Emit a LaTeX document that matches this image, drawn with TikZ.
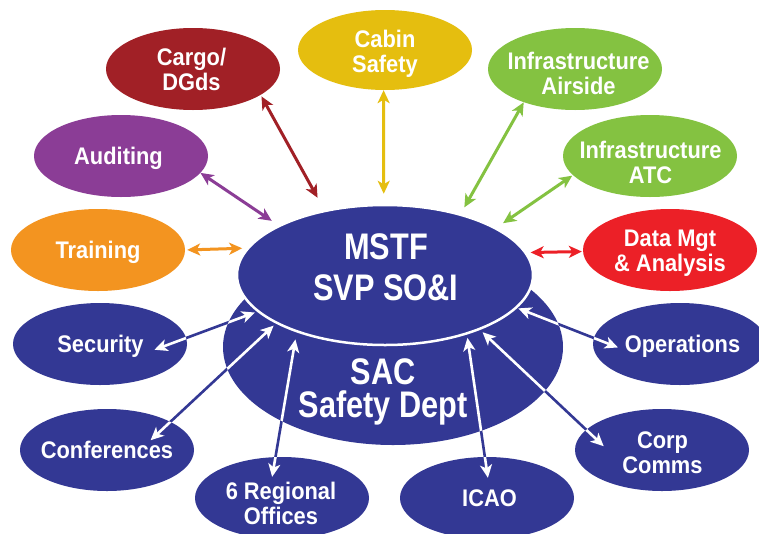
\documentclass[tikz,border=0pt]{standalone}
\usepackage{fontspec}
\setmainfont[FakeStretch=0.91]{Liberation Sans}
\newfontfamily\bigfont[FakeStretch=0.83]{Liberation Sans}
\usetikzlibrary{shapes.geometric,arrows.meta}
\definecolor{navy}{RGB}{51,56,148}
\definecolor{cargoR}{RGB}{161,32,38}
\definecolor{cabinY}{RGB}{229,190,15}
\definecolor{infraG}{RGB}{132,194,65}
\definecolor{auditP}{RGB}{139,61,150}
\definecolor{trainO}{RGB}{243,148,32}
\definecolor{dataR}{RGB}{236,32,39}
\tikzset{
  bub/.style={ellipse, inner sep=0pt, minimum width=174pt, minimum height=82pt, fill=#1},
  lab/.style={text=white, inner sep=0pt, align=center,
    font=\bfseries\fontsize{24}{25}\selectfont, text height=17.3pt, text depth=0pt},
  labtwo/.style={lab, text height=42.3pt},
  biglab/.style={text=white, inner sep=0pt, align=center,
    font=\bigfont\bfseries\fontsize{37}{#1}\selectfont, text height=26.5pt+#1pt, text depth=0pt},
  tip/.tip={Stealth[length=13pt,width=12pt,inset=3.5pt]},
  arr/.style={draw=#1, line width=3pt, tip-tip},
}
\begin{document}
\begin{tikzpicture}[x=1pt,y=-1pt]
\useasboundingbox[fill=white] (0,0) rectangle (759,533);
% central ellipses
\node[ellipse, inner sep=0pt, minimum width=340pt, minimum height=196pt, fill=navy] (sac) at (393,347) {};
\node[ellipse, inner sep=0pt, minimum width=296pt, minimum height=140pt, fill=navy, draw=white, line width=2.5pt] (mstf) at (385,275) {};
% satellites
\node[bub=cargoR] (cargo) at (193,69) {};
\node[bub=cabinY, minimum height=80pt] (cabin) at (385,50) {};
\node[bub=infraG] (airside) at (575,69) {};
\node[bub=infraG] (atc) at (650,156) {};
\node[bub=auditP] (audit) at (121,156) {};
\node[bub=trainO] (train) at (98,250) {};
\node[bub=dataR] (data) at (670,250) {};
\node[bub=navy] (secu) at (100,344) {};
\node[bub=navy] (conf) at (107,450) {};
\node[bub=navy] (reg) at (282,498) {};
\node[bub=navy] (icao) at (487,498) {};
\node[bub=navy] (ops) at (680,344) {};
\node[bub=navy] (corp) at (662,450) {};
% coloured connectors
\draw[arr=cargoR, shorten <=1.6pt, shorten >=13.9pt] (cargo.-21.9) -- (mstf.133.2);
\draw[arr=cabinY, shorten <=0pt, shorten >=10pt] (cabin.-92.9) -- (mstf.91.6);
\draw[arr=infraG, shorten <=0pt, shorten >=7.2pt] (airside.-147.6) -- (mstf.39.6);
\draw[arr=infraG, shorten <=0.8pt, shorten >=7.9pt] (atc.-166.3) -- (mstf.23.7);
\draw[arr=auditP, shorten <=0pt, shorten >=7.8pt] (audit.-12.1) -- (mstf.155.5);
\draw[arr=trainO, shorten <=2pt, shorten >=4.6pt] (train.0.66) -- (mstf.169.3);
\draw[arr=dataR, shorten <=1pt, shorten >=4pt] (data.-179.3) -- (mstf.9.8);
% navy connectors (navy on white, white on navy)
\def\navylinks{secu.4.4/mstf.-164.1/-33.9pt/2.4pt, conf.24.2/mstf.-156/-27.1pt/3pt,
  reg.99.3/mstf.-147.8/-20.2pt/7.1pt, icao.93.2/mstf.-36.1/-21.2pt/3.3pt,
  corp.165.8/mstf.-30.6/-24.1pt/3.4pt, ops.176.3/mstf.-14/-26pt/1.1pt}
\foreach \a/\b/\s/\t in \navylinks {
  \draw[arr=navy, line width=2.6pt, shorten <=\s, shorten >=\t] (\a) -- (\b);
}
\begin{scope}
  \clip (sac.center) ellipse [x radius=170pt, y radius=98pt]
        (secu.center) ellipse [x radius=87pt, y radius=41pt]
        (conf.center) ellipse [x radius=87pt, y radius=41pt]
        (reg.center) ellipse [x radius=87pt, y radius=41pt]
        (icao.center) ellipse [x radius=87pt, y radius=41pt]
        (corp.center) ellipse [x radius=87pt, y radius=41pt]
        (ops.center) ellipse [x radius=87pt, y radius=41pt];
  \foreach \a/\b/\s/\t in \navylinks {
    \draw[arr=white, line width=2.6pt, shorten <=\s, shorten >=\t] (\a) -- (\b);
  }
\end{scope}
% texts
\node[biglab=41] (tmstf) at (386,267) {MSTF\\SVP SO\&I};
\node[biglab=33] (tsac) at (383,387.5) {SAC\\Safety Dept};
\node[labtwo] (tcargo) at (191.5,69) {Cargo/\\DGds};
\node[labtwo] (tcabin) at (385,51) {Cabin\\Safety};
\node[labtwo] (tairside) at (578.5,73) {Infrastructure\\Airside};
\node[labtwo] (tatc) at (650.5,162) {Infrastructure\\ATC};
\node[lab] (taudit) at (118.5,155.5) {Auditing};
\node[lab] (ttrain) at (98,250) {Training};
\node[labtwo] (tdata) at (670,250.5) {Data Mgt\\\& Analysis};
\node[lab] (tsecu) at (100.5,344) {Security};
\node[lab] (tconf) at (107,450) {Conferences};
\node[labtwo] (treg) at (281,503) {6 Regional\\Offices};
\node[lab] (ticao) at (489.5,498) {ICAO};
\node[lab] (tops) at (682.5,344) {Operations};
\node[labtwo] (tcorp) at (662.5,452) {Corp\\Comms};
\end{tikzpicture}
\end{document}
